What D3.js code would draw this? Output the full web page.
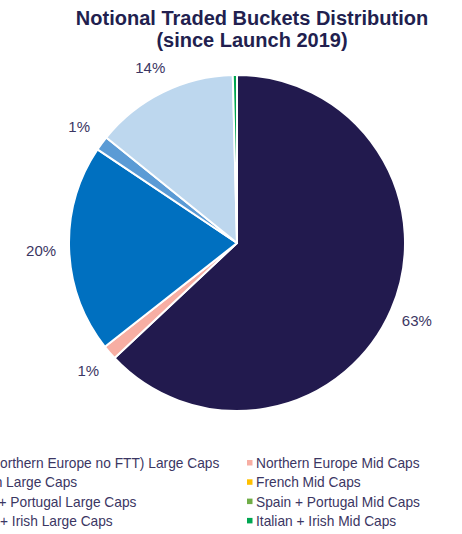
<!DOCTYPE html>
<html>
<head>
<meta charset="utf-8">
<script src="https://cdn.jsdelivr.net/npm/d3@7"></script>
<style>
  html, body { margin: 0; padding: 0; background: #fff; }
  svg { display: block; }
</style>
</head>
<body>
<svg id="chart" width="462" height="534"></svg>
<script>
const titleLines = ["Notional Traded Buckets Distribution", "(since Launch 2019)"];
const categories = [
  "Top (Northern Europe no FTT) Large Caps",
  "Northern Europe Mid Caps",
  "French Large Caps",
  "French Mid Caps",
  "Spain + Portugal Large Caps",
  "Spain + Portugal Mid Caps",
  "Italian + Irish Large Caps",
  "Italian + Irish Mid Caps"
];
const values = [63.0, 1.4, 20.0, 0, 1.4, 0, 13.8, 0.4];
const colors = ["#221a4e", "#f7aea3", "#0070c0", "#ffc000", "#5b9bd5", "#70ad47", "#bdd7ee", "#00a651"];

const svg = d3.select("#chart");
const cx = 237, cy = 243, r = 168, labelR = 196;
const font = "Liberation Sans, Arial, sans-serif";

svg.append("text")
  .attr("text-anchor", "middle")
  .attr("font-family", font)
  .attr("font-weight", "bold").attr("font-size", 20)
  .attr("fill", "#221f4f")
  .selectAll("tspan").data(titleLines).join("tspan")
  .attr("x", 252).attr("y", (d, i) => 25 + i * 22).text(d => d);

const pie = d3.pie().sort(null).value(d => d.v).startAngle(0).endAngle(2 * Math.PI);
const data = categories.map((c, i) => ({ c, v: values[i], col: colors[i] }));
const arcs = pie(data);
const arc = d3.arc().innerRadius(0).outerRadius(r);
const labelArc = d3.arc().innerRadius(labelR).outerRadius(labelR);

const g = svg.append("g").attr("transform", `translate(${cx},${cy})`);
g.selectAll("path").data(arcs.filter(a => a.data.v > 0)).join("path")
  .attr("d", arc)
  .attr("fill", d => d.data.col)
  .attr("stroke", "#fff").attr("stroke-width", 2).attr("stroke-linejoin", "round");

const fmt = v => Math.round(v) + "%";
g.selectAll("text.lbl").data(arcs.filter(a => a.data.v >= 1)).join("text")
  .attr("class", "lbl")
  .attr("transform", d => `translate(${labelArc.centroid(d)})`)
  .attr("text-anchor", "middle").attr("dy", "0.36em")
  .attr("font-family", font)
  .attr("font-size", 15).attr("fill", "#3b3663")
  .text(d => fmt(d.data.v));

// legend: two columns, filled row-wise
const colX = [-40.5, 256], rowY0 = 463, rowH = 19.3;
const leg = svg.append("g");
data.forEach((d, i) => {
  const col = i % 2, row = Math.floor(i / 2);
  const y = rowY0 + row * rowH;
  leg.append("rect").attr("x", colX[col] - 9).attr("y", y - 3)
    .attr("width", 5.5).attr("height", 5.5).attr("fill", d.col);
  leg.append("text").attr("x", colX[col]).attr("y", y).attr("dy", "0.36em")
    .attr("font-family", font)
    .attr("font-size", 13.75).attr("fill", "#3b3663").text(d.c);
});
</script>
</body>
</html>
